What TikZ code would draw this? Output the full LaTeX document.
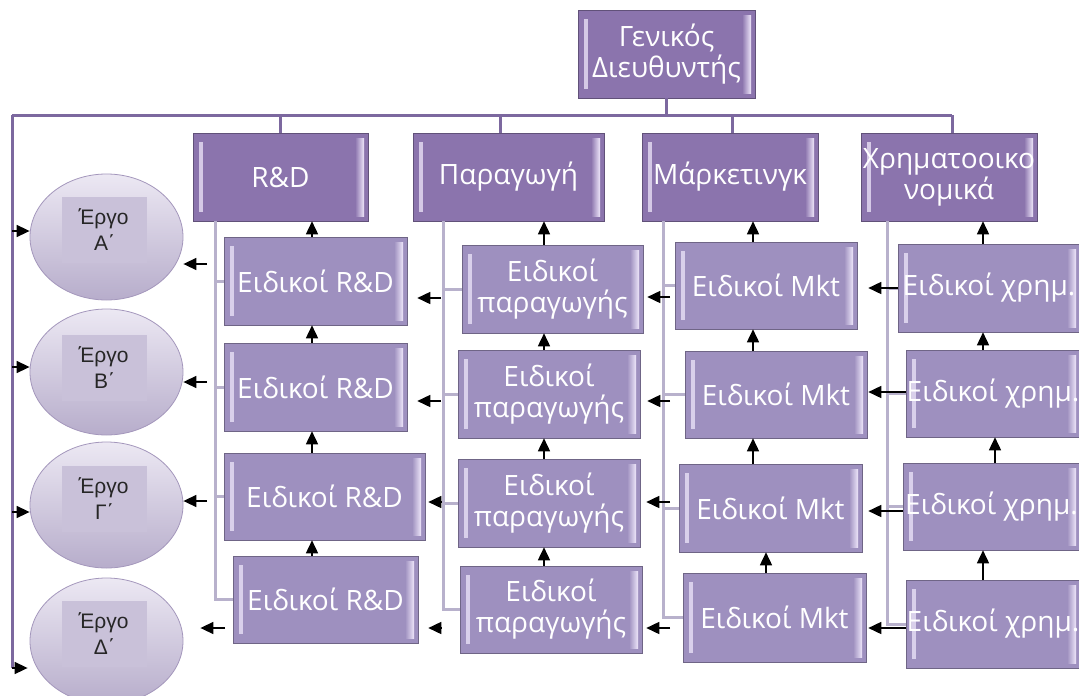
\documentclass[tikz,border=0pt]{standalone}
\usepackage{fontspec}
\setmainfont{Open Sans}
\newfontfamily\arialf{Liberation Sans}
\usetikzlibrary{arrows.meta,shapes.geometric,calc}
\newcommand\tonE{\llap{΄\kern-3pt}Ε}
\definecolor{topc}{HTML}{8B74AD}
\definecolor{subc}{HTML}{9E90BF}
\definecolor{busc}{HTML}{7C689F}
\definecolor{conc}{HTML}{B8B1CC}
\definecolor{bevc}{HTML}{EEE6FA}
\definecolor{ellA}{HTML}{ECE8F3}
\definecolor{ellB}{HTML}{B7ADCB}
\definecolor{ellD}{HTML}{A497BC}
\definecolor{inrc}{HTML}{C9C1D9}
\tikzset{
  obox/.style={rectangle, draw=#1!70!black, line width=0.6pt, fill=#1, text=white,
    align=center, inner sep=0pt, font=\fontsize{28}{31}\selectfont,
    path picture={
      \fill[bevc, opacity=0.75] ([xshift=6pt,yshift=-9pt]path picture bounding box.north west)
        rectangle ([xshift=10pt,yshift=9pt]path picture bounding box.south west);
      \shade[left color=#1, right color=bevc] ([xshift=-13pt,yshift=-5pt]path picture bounding box.north east)
        rectangle ([xshift=-4pt,yshift=5pt]path picture bounding box.south east);
    }},
  ell/.style={ellipse, draw=ellD, line width=0.8pt, top color=ellA, bottom color=ellB,
    minimum width=153pt, minimum height=126pt, inner sep=0pt},
  irect/.style={rectangle, fill=inrc, minimum width=85pt, minimum height=66pt, inner sep=0pt,
    align=center, text=black!85, font=\arialf\fontsize{21}{26}\selectfont},
  bus/.style={draw=busc, line width=3pt},
  conn/.style={draw=conc, line width=3pt},
  arr/.style={draw=black, line width=1.6pt, -{Triangle[length=13pt,width=12pt]}},
}
\begin{document}
\begin{tikzpicture}[x=1pt,y=-1pt]
\useasboundingbox (0,0) rectangle (1079,696);
\fill[white] (0,0) rectangle (1079,696);
\clip (0,0) rectangle (1079,696);

% top level
\node[obox=topc, minimum width=177pt, minimum height=88pt] (GM) at (666.5,54) {Γενικός\\Διευθυντής};
\node[obox=topc, minimum width=175pt, minimum height=88pt] (RD) at (280.5,177) {R\&D};
\node[obox=topc, minimum width=191pt, minimum height=88pt] (PA) at (508.5,177) {Παραγωγή};
\node[obox=topc, minimum width=176pt, minimum height=88pt] (MK) at (730,177) {Μάρκετινγκ};
\node[obox=topc, minimum width=176pt, minimum height=88pt] (FI) at (949,177) {Χρηματοοικο\\νομικά};

% R&D specialists
\node[obox=subc, minimum width=183pt, minimum height=88pt] (R1) at (315.5,281) {Ειδικοί R\&D};
\node[obox=subc, minimum width=183pt, minimum height=88pt] (R2) at (315.5,387) {Ειδικοί R\&D};
\node[obox=subc, minimum width=201pt, minimum height=87pt] (R3) at (324.5,496.5) {Ειδικοί R\&D};
\node[obox=subc, minimum width=185pt, minimum height=87pt] (R4) at (325.5,599.5) {Ειδικοί R\&D};
% production specialists
\node[obox=subc, minimum width=181pt, minimum height=88pt] (P1) at (552.5,289) {Ειδικοί\\παραγωγής};
\node[obox=subc, minimum width=182pt, minimum height=88pt] (P2) at (549,394) {Ειδικοί\\παραγωγής};
\node[obox=subc, minimum width=182pt, minimum height=88pt] (P3) at (549,503) {Ειδικοί\\παραγωγής};
\node[obox=subc, minimum width=182pt, minimum height=87pt] (P4) at (551,609.5) {Ειδικοί\\παραγωγής};
% marketing specialists
\node[obox=subc, minimum width=182pt, minimum height=87pt] (M1) at (766,285.5) {Ειδικοί Mkt};
\node[obox=subc, minimum width=182pt, minimum height=87pt] (M2) at (776,394.5) {Ειδικοί Mkt};
\node[obox=subc, minimum width=183pt, minimum height=88pt] (M3) at (770.5,508) {Ειδικοί Mkt};
\node[obox=subc, minimum width=183pt, minimum height=89pt] (M4) at (774.5,617.5) {Ειδικοί Mkt};
% finance specialists
\node[obox=subc, minimum width=182pt, minimum height=88pt] (F1) at (989,288) {Ειδικοί χρημ.};
\node[obox=subc, minimum width=174pt, minimum height=87pt] (F2) at (993,393.5) {Ειδικοί χρημ.};
\node[obox=subc, minimum width=177pt, minimum height=87pt] (F3) at (991.5,506.5) {Ειδικοί χρημ.};
\node[obox=subc, minimum width=174pt, minimum height=88pt] (F4) at (993,624) {Ειδικοί χρημ.};

% projects
\node[ell] (EA) at (106.5,237) {};
\node[ell] (EB) at (106.5,372) {};
\node[ell] (EG) at (106.5,505) {};
\node[ell] (ED) at (106.5,641) {};
\node[irect] (TA) at (104.5,230) {\tonE ργο\\Α΄};
\node[irect] (TB) at (104.5,367.5) {\tonE ργο\\Β΄};
\node[irect] (TG) at (104.5,499) {\tonE ργο\\Γ΄};
\node[irect] (TD) at (104.5,633.5) {\tonE ργο\\Δ΄};

% bus lines
\coordinate (busL) at (12,115);
\coordinate (busR) at (952,115);
\coordinate (busE) at ([yshift=-27pt]ED.west -| busL);
\draw[bus] (GM.south) -- (GM.south |- busL);
\draw[bus] (busL) -- (busR);
\draw[bus] (busL) -- (busE);
\draw[bus] (RD.north) -- (RD.north |- busL);
\draw[bus] ([xshift=-8pt]PA.north) -- ([xshift=-8pt]PA.north |- busL);
\draw[bus] ([xshift=2pt]MK.north) -- ([xshift=2pt]MK.north |- busL);
\draw[bus] (FI.north -| busR) -- (busR);

% arrows into projects from the left bus
\draw[arr] ([yshift=6pt]EA.west -| busL) -- ([yshift=6pt]EA.west);
\draw[arr] ([yshift=5pt]EB.west -| busL) -- ([yshift=5pt]EB.west);
\draw[arr] ([yshift=-7pt]EG.west -| busL) -- ([yshift=-7pt]EG.west);
\draw[arr] (busE) -- ([xshift=-2pt,yshift=-27pt]ED.west);

% column connectors
\coordinate (cR) at (215,221);
\coordinate (cP) at (443,221);
\coordinate (cM) at (663,221);
\coordinate (cF) at (887,221);
\draw[conn] (cR) |- (R4.west);
\draw[conn] (R1.west -| cR) -- (R1.west);
\draw[conn] (R2.west -| cR) -- (R2.west);
\draw[conn] (R3.west -| cR) -- (R3.west);
\draw[conn] (cP) |- (P4.west);
\draw[conn] (P1.west -| cP) -- (P1.west);
\draw[conn] (P2.west -| cP) -- (P2.west);
\draw[conn] (P3.west -| cP) -- (P3.west);
\draw[conn] (cM) |- (M4.west);
\draw[conn] (M1.west -| cM) -- (M1.west);
\draw[conn] (M2.west -| cM) -- (M2.west);
\draw[conn] (M3.west -| cM) -- (M3.west);
\draw[conn] (cF) |- (F4.west);
\draw[conn] (F1.west -| cF) -- (F1.west);
\draw[conn] (F2.west -| cF) -- (F2.west);
\draw[conn] (F3.west -| cF) -- (F3.west);

% vertical arrows
\coordinate (aR) at (312,0);
\coordinate (aP) at (544,0);
\coordinate (aM) at (753,0);
\coordinate (aM2) at (766,0);
\coordinate (aF) at (983,0);
\coordinate (aF2) at (995,0);
\draw[arr] (R1.north -| aR) -- (RD.south -| aR);
\draw[arr] (R2.north -| aR) -- (R1.south -| aR);
\draw[arr] (R3.north -| aR) -- (R2.south -| aR);
\draw[arr] (R4.north -| aR) -- (R3.south -| aR);
\draw[arr] (P1.north -| aP) -- (PA.south -| aP);
\draw[arr] (P2.north -| aP) -- (P1.south -| aP);
\draw[arr] (P3.north -| aP) -- (P2.south -| aP);
\draw[arr] (P4.north -| aP) -- (P3.south -| aP);
\draw[arr] (M1.north -| aM) -- (MK.south -| aM);
\draw[arr] (M2.north -| aM) -- (M1.south -| aM);
\draw[arr] (M3.north -| aM) -- (M2.south -| aM);
\draw[arr] (M4.north -| aM2) -- (M3.south -| aM2);
\draw[arr] (F1.north -| aF) -- (FI.south -| aF);
\draw[arr] (F2.north -| aF) -- (F1.south -| aF);
\draw[arr] (F3.north -| aF2) -- (F2.south -| aF2);
\draw[arr] (F4.north -| aF) -- (F3.south -| aF);

% horizontal arrows: R&D -> projects
\coordinate (tR) at (207,0);
\coordinate (tR2) at (225,0);
\draw[arr] ([yshift=-27pt]EA.east -| tR) -- ([yshift=-27pt]EA.east);
\draw[arr] ([yshift=-10pt]EB.east -| tR) -- ([yshift=-10pt]EB.east);
\draw[arr] ([yshift=4pt]EG.east -| tR) -- ([yshift=4pt]EG.east);
\draw[arr] ([yshift=13pt]ED.east -| tR2) -- ([xshift=17pt,yshift=13pt]ED.east);
% production -> R&D
\coordinate (tP) at (441,0);
\draw[arr] ([yshift=-17pt]R1.east -| tP) -- ([xshift=10pt,yshift=-17pt]R1.east);
\draw[arr] ([yshift=-14pt]R2.east -| tP) -- ([xshift=10pt,yshift=-14pt]R2.east);
\draw[arr] ([yshift=-5.5pt]R3.east -| tP) -- ([xshift=3pt,yshift=-5.5pt]R3.east);
\draw[arr] ([yshift=-28.5pt]R4.east -| tP) -- ([xshift=10pt,yshift=-28.5pt]R4.east);
% marketing -> production
\coordinate (tM) at (670,0);
\draw[arr] ([yshift=-8pt]P1.east -| tM) -- ([xshift=4pt,yshift=-8pt]P1.east);
\draw[arr] ([yshift=-7pt]P2.east -| tM) -- ([xshift=7pt,yshift=-7pt]P2.east);
\draw[arr] ([yshift=1pt]P3.east -| tM) -- ([xshift=6pt,yshift=1pt]P3.east);
\draw[arr] ([yshift=-18.5pt]P4.east -| tM) -- ([xshift=4pt,yshift=-18.5pt]P4.east);
% finance -> marketing
\draw[arr] ([yshift=-2.5pt]M1.east -| F1.west) -- ([xshift=11pt,yshift=-2.5pt]M1.east);
\draw[arr] ([yshift=2.5pt]M2.east -| F2.west) -- ([xshift=1pt,yshift=2.5pt]M2.east);
\draw[arr] ([yshift=-3pt]M3.east -| F3.west) -- ([xshift=6pt,yshift=-3pt]M3.east);
\draw[arr] ([yshift=-10.5pt]M4.east -| F4.west) -- ([xshift=2pt,yshift=-10.5pt]M4.east);
\end{tikzpicture}
\end{document}
